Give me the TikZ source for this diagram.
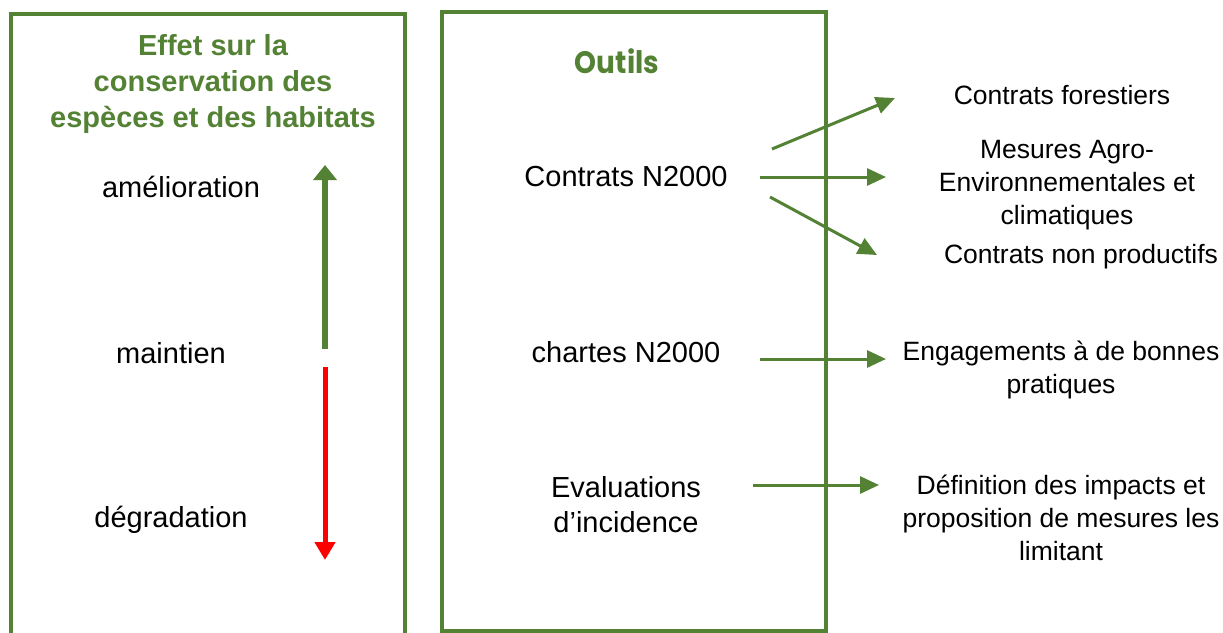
\documentclass[tikz,border=0pt]{standalone}
\usepackage{fontspec}
\setmainfont{Liberation Sans}
\newfontfamily\outilsfont{Poppins}[FakeStretch=0.9]
\usetikzlibrary{arrows.meta}
\definecolor{vert}{HTML}{548235}
\definecolor{rouge}{HTML}{FF0000}
\tikzset{
  cadre/.style={draw=vert, line width=3.2pt},
  titre/.style={font=\bfseries\fontsize{29}{36}\selectfont, text=vert, align=center, inner sep=0pt},
  etat/.style={font=\fontsize{29}{35}\selectfont, inner sep=0pt, text height=0.72em, text depth=0.2em},
  outil/.style={font=\fontsize{29}{35}\selectfont, inner sep=0pt, align=center},
  effet/.style={font=\fontsize{26.5}{33}\selectfont, inner sep=0pt, align=center},
  fleche/.style={draw=vert, line width=3pt, -{Triangle[length=19pt,width=17pt]}},
}
\begin{document}
\begin{tikzpicture}[x=1pt,y=-1pt]
\useasboundingbox (0,0) rectangle (1223,632);
\clip (0,0) rectangle (1223,632);
% boxes
\draw[cadre] (11,14) rectangle (405,680);
\draw[cadre] (442,12) rectangle (826,631);
% left column
\node[titre] (titre) at (213,84) {Effet sur la\\conservation des\\espèces et des habitats};
\node[etat] (amel) at (181,195) {amélioration};
\node[etat] (maint) at (171,361) {maintien};
\node[etat] (degr) at (171,525) {dégradation};
\coordinate (g1) at (325,349);
\coordinate (g2) at (325,165);
\coordinate (r1) at (325,367);
\coordinate (r2) at (325,560);
\draw[draw=vert, line width=6pt, -{Triangle[length=15pt,width=23pt]}] (g1) -- (g2);
\draw[draw=rouge, line width=5pt, -{Triangle[length=18pt,width=20pt]}] (r1) -- (r2);
% middle column
\node[font=\outilsfont\bfseries\fontsize{31}{36}\selectfont, text=vert, inner sep=0pt] (outils) at (617,61) {Outils};
\node[outil] (contrats) at (626,177) {Contrats N2000};
\node[outil] (chartes) at (626,352) {chartes N2000};
\node[outil] (eval) at (626,505) {Evaluations\\d’incidence};
% right column
\node[effet] (forest) at (1062,95) {Contrats forestiers};
\node[effet] (maec) at (1067,185) {Mesures Agro-\\Environnementales et\\climatiques};
\node[effet] (nonprod) at (1081,257) {Contrats non productifs};
\node[effet] (engag) at (1061,370) {Engagements à de bonnes\\pratiques};
\node[effet] (defin) at (1061,518) {Définition des impacts et\\proposition de mesures les\\limitant};
% connectors
\coordinate (a1s) at (772,149); \coordinate (a1e) at (895,98);
\coordinate (a2s) at (760,177); \coordinate (a2e) at (886,177);
\coordinate (a3s) at (770,197); \coordinate (a3e) at (877,255);
\coordinate (a4s) at (760,359); \coordinate (a4e) at (886,359);
\coordinate (a5s) at (753,485); \coordinate (a5e) at (879,485);
\draw[fleche] (a1s) -- (a1e);
\draw[fleche] (a2s) -- (a2e);
\draw[fleche] (a3s) -- (a3e);
\draw[fleche] (a4s) -- (a4e);
\draw[fleche] (a5s) -- (a5e);
\end{tikzpicture}
\end{document}
